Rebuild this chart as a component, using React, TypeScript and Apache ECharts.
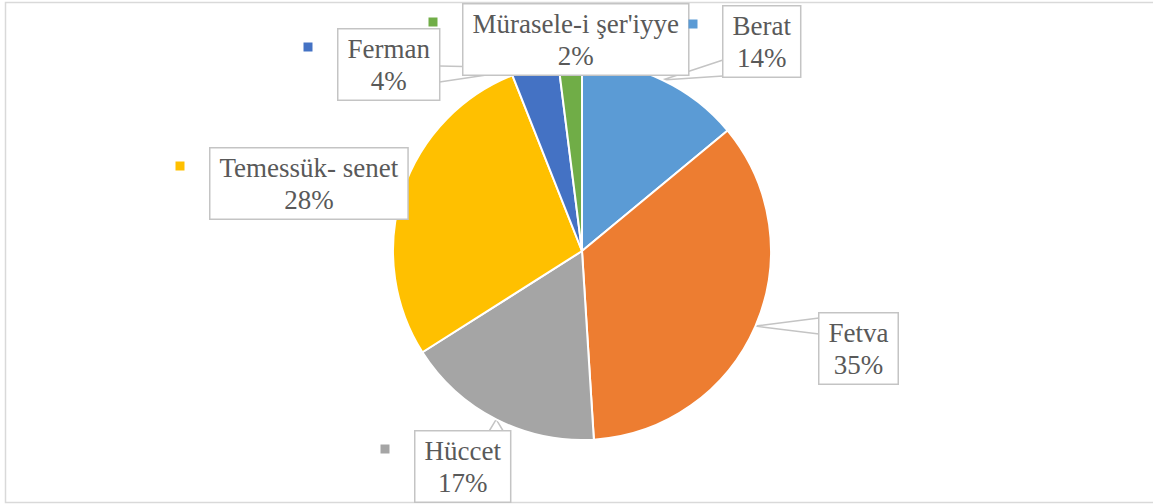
import React, { useEffect, useRef } from 'react';
import * as echarts from 'echarts';

const categories = ['Berat', 'Fetva', 'Hüccet', 'Temessük- senet', 'Ferman', "Mürasele-i şer'iyye"];
const values = [14, 35, 17, 28, 4, 2];
const colors = ['#5B9BD5', '#ED7D31', '#A5A5A5', '#FFC000', '#4472C4', '#70AD47'];
const showMarker = [true, false, true, true, true, true];
const showLine = [true, true, true, false, true, false];

// label box top-left positions (layout only)
const boxPos: number[][] = [
  [722, 5],
  [818, 312],
  [414, 430],
  [209, 147],
  [337, 28],
  [462, 3],
];

const clamp = (v: number, a: number, b: number) => Math.max(a, Math.min(b, v));

export default function App() {
  const ref = useRef<HTMLDivElement>(null);
  useEffect(() => {
    if (!ref.current) return;
    const chart = echarts.init(ref.current, undefined, { renderer: 'svg' });
    const font = "'Liberation Serif', 'Times New Roman', serif";
    const mainData = categories.map((name, i) => ({
      name,
      value: values[i],
      itemStyle: { color: colors[i] },
      labelLine: { show: showLine[i] },
    }));
    const markerData = categories.map((name, i) => ({
      name,
      value: values[i],
      label: {
        show: showMarker[i],
        backgroundColor: colors[i],
      },
    }));
    chart.setOption({
      animation: false,
      backgroundColor: '#ffffff',
      graphic: [
        {
          type: 'rect',
          shape: { x: 5.5, y: 2.5, width: 1160, height: 500 },
          style: { fill: 'none', stroke: '#d9d9d9', lineWidth: 1.5 },
          z: 0,
        },
      ],
      series: [
        {
          type: 'pie',
          center: [582, 251],
          radius: 189,
          startAngle: 90,
          clockwise: true,
          avoidLabelOverlap: false,
          itemStyle: { borderColor: '#ffffff', borderWidth: 2 },
          label: {
            show: true,
            position: 'outside',
            formatter: '{b}\n{c}%',
            fontFamily: font,
            fontSize: 27,
            lineHeight: 32,
            color: '#595959',
            backgroundColor: '#ffffff',
            borderColor: '#c4c4c4',
            borderWidth: 1.5,
            padding: [3, 9],
            align: 'center',
          },
          labelLine: {
            show: true,
            length: 10,
            length2: 10,
            lineStyle: { color: '#c4c4c4', width: 1.5 },
          },
          labelLayout: (p: any) => {
            const i = p.dataIndex;
            const [l, t] = boxPos[i];
            const w = p.labelRect.width;
            const h = p.labelRect.height;
            const res: any = { x: l + w / 2, y: t + h / 2, align: 'center', verticalAlign: 'middle' };
            if (showLine[i] && p.labelLinePoints) {
              const tip = p.labelLinePoints[0];
              const r = l + w;
              const b = t + h;
              let a: number[];
              let c: number[];
              if (tip[0] < l) {
                const y = clamp(tip[1], t + 10, b - 10);
                a = [l + 1, y - 8];
                c = [l + 1, y + 8];
              } else if (tip[0] > r) {
                const y = clamp(tip[1] + 6, t + 10, b - 10);
                a = [r - 1, y - 8];
                c = [r - 1, y + 8];
              } else if (tip[1] < t) {
                const x = clamp(tip[0], l + 10, r - 10);
                a = [x - 7, t + 1];
                c = [x + 7, t + 1];
              } else {
                const x = clamp(tip[0], l + 10, r - 10);
                a = [x - 7, b - 1];
                c = [x + 7, b - 1];
              }
              res.labelLinePoints = [a, tip, c];
            }
            return res;
          },
          data: mainData,
          z: 2,
        },
        {
          type: 'pie',
          center: [582, 251],
          radius: 189,
          startAngle: 90,
          clockwise: true,
          silent: true,
          avoidLabelOverlap: false,
          itemStyle: { color: 'rgba(0,0,0,0)', borderWidth: 0 },
          emphasis: { disabled: true },
          label: {
            show: true,
            position: 'outside',
            formatter: '{m|}',
            rich: { m: { width: 9, height: 9 } },
            padding: 0,
          },
          labelLine: { show: false },
          labelLayout: (p: any) => {
            const [l, t] = boxPos[p.dataIndex];
            return { x: l - 29, y: t + 19, align: 'center', verticalAlign: 'middle' };
          },
          data: markerData,
          z: 3,
        },
      ],
    });
    return () => chart.dispose();
  }, []);
  return (
    <div
      ref={ref}
      style={{ position: 'absolute', left: 0, top: 0, width: 1153, height: 504 }}
    />
  );
}
